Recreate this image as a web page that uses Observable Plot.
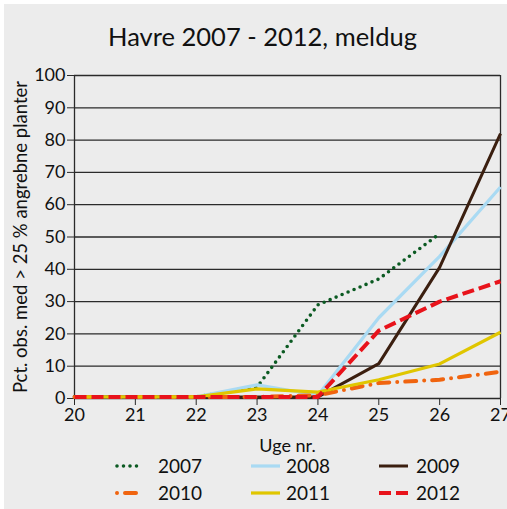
<!DOCTYPE html>
<html><head><meta charset="utf-8">
<script src="https://cdn.jsdelivr.net/npm/d3@7"></script>
<script src="https://cdn.jsdelivr.net/npm/@observablehq/plot@0.6"></script>
<style>
body{margin:0;background:#fff;}
#panel{position:absolute;left:4px;top:4px;width:503px;height:505px;background:#ececec;font-family:Lato, "DejaVu Sans", sans-serif;color:#111;overflow:hidden;}
#title{position:absolute;left:7px;width:503px;top:17px;font-size:25.5px;line-height:30px;text-align:center;white-space:nowrap;}
#chart{position:absolute;left:0;top:56px;}
#legend{position:absolute;left:0;top:451px;}
</style></head>
<body>
<div id="panel"><div id="title">Havre 2007 - 2012, meldug</div><div id="chart"></div><svg id="legend" width="503" height="54"></svg></div>
<script>
const weeks = [20, 21, 22, 23, 24, 25, 26, 27];
const yTicks = [0, 10, 20, 30, 40, 50, 60, 70, 80, 90, 100];
const years = ["2007", "2008", "2009", "2010", "2011", "2012"];
const v2007 = [0.5, 0.5, 0.5, 3.5, 29, 37, 51, null];
const v2008 = [0.5, 0.5, 0.5, 4.2, 1, 25, 44, 65.5];
const v2009 = [0.5, 0.5, 0.5, 0.5, 0.5, 10.8, 40.6, 82];
const v2010 = [0.5, 0.5, 0.5, 0.5, 1, 4.8, 5.8, 8.3];
const v2011 = [0.5, 0.5, 0.5, 3, 2, 5.8, 10.7, 20.5];
const v2012 = [0.5, 0.5, 0.5, 0.5, 0.5, 21, 30, 36.3];
const values = [v2007, v2008, v2009, v2010, v2011, v2012];
const colors = ["#0b5a22", "#a9daf3", "#3b1f10", "#f0640f", "#e0c600", "#e8131b"];
const dashes = ["0 6.5", null, null, "0 8 11 8", null, "12 5"];
const widths = [3.6, 3.2, 3, 4, 3.2, 4];
const caps = ["round", "butt", "butt", "round", "butt", "butt"];
const yLabel = "Pct. obs. med > 25 % angrebne planter";
const xLabel = "Uge nr.";

const series = years.map((y, k) => weeks.map((w, i) => ({year: y, week: w, value: values[k][i]})).filter(d => d.value != null));

const chart = Plot.plot({
  width: 503, height: 395,
  marginLeft: 70, marginRight: 7, marginTop: 15, marginBottom: 57,
  x: {domain: [20, 27]},
  y: {domain: [0, 100]},
  style: {background: "transparent", fontFamily: "Lato, 'DejaVu Sans', sans-serif", fontSize: "18px", color: "#111"},
  marks: [
    Plot.gridY(yTicks, {stroke: "#2a2a2a", strokeOpacity: 1, strokeWidth: 1.3}),
    Plot.ruleX([20, 27], {stroke: "#2a2a2a", strokeWidth: 1.3}),
    Plot.axisY(yTicks, {tickSize: 7, tickPadding: 2, stroke: "#2a2a2a", label: null}),
    Plot.text([yLabel], {frameAnchor: "left", rotate: -90, textAnchor: "middle", lineAnchor: "middle", dx: -53, fontSize: 18.5, fill: "#111", text: d => d}),
    Plot.axisX(weeks, {tickSize: 7, tickPadding: 3, stroke: "#2a2a2a", tickFormat: d => String(d), label: xLabel, labelAnchor: "center", labelArrow: "none", labelOffset: 53}),
    ...series.map((s, k) => Plot.line(s, {x: "week", y: "value", stroke: colors[k], strokeWidth: widths[k], strokeDasharray: dashes[k], strokeLinecap: caps[k], strokeLinejoin: "round"}))
  ]
});
document.getElementById("chart").appendChild(chart);

const lg = d3.select("#legend");
const colSw = [111, 247, 375];
const colTx = [154, 282, 412];
const rowY = [11, 38];
years.forEach((y, k) => {
  const c = k % 3, r = Math.floor(k / 3);
  lg.append("line").attr("x1", colSw[c] + (caps[k] === "round" ? 2 : 0)).attr("x2", colSw[c] + 29 - (caps[k] === "round" ? 2 : 0))
    .attr("y1", rowY[r]).attr("y2", rowY[r])
    .attr("stroke", colors[k]).attr("stroke-width", widths[k]).attr("stroke-linecap", caps[k])
    .attr("stroke-dasharray", dashes[k]);
  lg.append("text").attr("x", colTx[c]).attr("y", rowY[r]).attr("dy", "0.36em")
    .attr("font-size", 19).attr("fill", "#111").style("font-family", "Lato, 'DejaVu Sans', sans-serif").text(y);
});
</script>
</body></html>
